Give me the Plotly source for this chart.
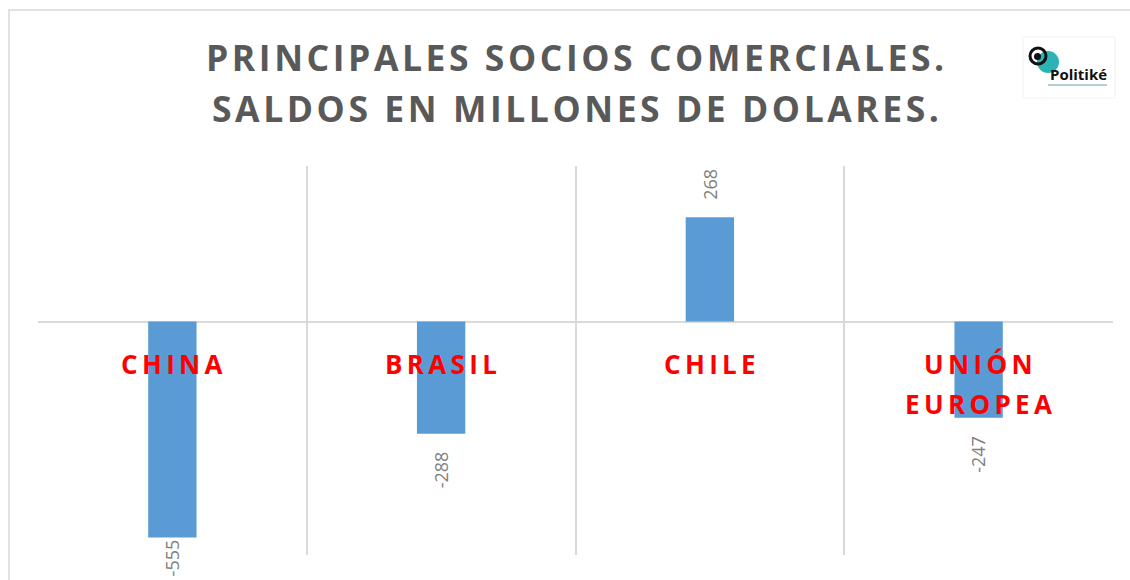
import plotly.graph_objects as go

categories = ["CHINA", "BRASIL", "CHILE", "UNIÓN EUROPEA"]
saldos = [-555, -288, 268, -247]
title_lines = ["PRINCIPALES SOCIOS COMERCIALES.", "SALDOS EN MILLONES DE DOLARES."]
logo_text = "Politiké"

W, H = 1130, 580
L, R, T, B = 38, 17, 166, 25
PW, PH = W - L - R, H - T - B
YMIN, YMAX = -600, 400
FONT = "Open Sans"


def spaced(s, sp="\u2006"):
    return sp.join(list(s))


def px2x(px):
    return (px - L) / PW


def py2y(py):
    return (H - B - py) / PH


fig = go.Figure()
fig.add_trace(go.Bar(
    x=list(range(len(categories))), y=saldos, width=0.18,
    marker=dict(color="#5B9BD5", line=dict(width=0)),
    hoverinfo="skip",
))

ann = []
shapes = []

# title
title_centers = [57, 108]
for line, cy in zip(title_lines, title_centers):
    ann.append(dict(text=spaced(line, "\u200A"), xref="paper", yref="paper",
                    x=px2x(575), y=py2y(cy), xanchor="center", yanchor="middle",
                    showarrow=False,
                    font=dict(family=FONT, size=35.5, color="#595959", weight="bold")))

# category labels
for i, c in enumerate(categories):
    for k, word in enumerate(c.split(" ")):
        ann.append(dict(text=spaced(word), x=i, y=0, xref="x", yref="y",
                        xanchor="center", yanchor="middle", yshift=-42 - 40 * k,
                        showarrow=False,
                        font=dict(family=FONT, size=26, color="#FF0000", weight="bold")))

# data labels
ppu = PH / (YMAX - YMIN)
fs = 18
for i, v in enumerate(saldos):
    txt = str(v)
    gap = 16
    if v >= 0:
        ann.append(dict(text=txt, x=i, y=v, xref="x", yref="y", textangle=-90,
                        xanchor="center", yanchor="bottom", yshift=gap, showarrow=False,
                        font=dict(family=FONT, size=fs, color="#808080")))
    else:
        length = 0.55 * fs * len(txt)
        end_px = T + (YMAX - v) * ppu
        if end_px + gap + length > H - 4:
            gap = max(0, (H - 4) - length - end_px)
        ann.append(dict(text=txt, x=i, y=v, xref="x", yref="y", textangle=-90,
                        xanchor="center", yanchor="top", yshift=-gap, showarrow=False,
                        font=dict(family=FONT, size=fs, color="#808080")))

# outer chart border
shapes.append(dict(type="rect", xref="paper", yref="paper",
                   x0=px2x(9), x1=px2x(1160), y0=py2y(620), y1=py2y(10),
                   line=dict(color="#D9D9D9", width=1.5), layer="below"))

# logo
shapes.append(dict(type="rect", xref="paper", yref="paper",
                   x0=px2x(1023), x1=px2x(1115), y0=py2y(98), y1=py2y(37),
                   line=dict(color="#F2F2F2", width=1), layer="below"))
shapes.append(dict(type="circle", xref="paper", yref="paper",
                   x0=px2x(1037), x1=px2x(1059), y0=py2y(73), y1=py2y(51),
                   fillcolor="#2EB3B5", line=dict(width=0)))
shapes.append(dict(type="circle", xref="paper", yref="paper",
                   x0=px2x(1030), x1=px2x(1046), y0=py2y(64), y1=py2y(48),
                   fillcolor="rgba(0,0,0,0)", line=dict(color="#111111", width=3)))
shapes.append(dict(type="circle", xref="paper", yref="paper",
                   x0=px2x(1034), x1=px2x(1041), y0=py2y(60), y1=py2y(53),
                   fillcolor="#111111", line=dict(width=0)))
shapes.append(dict(type="line", xref="paper", yref="paper",
                   x0=px2x(1048), x1=px2x(1107), y0=py2y(85), y1=py2y(85),
                   line=dict(color="#9FBFC4", width=1.5)))
ann.append(dict(text=logo_text, xref="paper", yref="paper", x=px2x(1048), y=py2y(74),
                xanchor="left", yanchor="middle", showarrow=False,
                font=dict(family=FONT, size=15, color="#111111", weight="bold")))

fig.update_layout(
    width=W, height=H,
    margin=dict(l=L, r=R, t=T, b=B),
    paper_bgcolor="white", plot_bgcolor="white",
    showlegend=False,
    annotations=ann, shapes=shapes,
    xaxis=dict(range=[-0.5, len(categories) - 0.5], tickvals=[-0.5, 0.5, 1.5, 2.5, 3.5],
               showticklabels=False, showgrid=True, gridcolor="#D9D9D9", gridwidth=1.5,
               zeroline=False, showline=False, ticks=""),
    yaxis=dict(range=[YMIN, YMAX], showgrid=False, showticklabels=False,
               zeroline=True, zerolinecolor="#D9D9D9", zerolinewidth=2, ticks=""),
)

fig.write_html("out.html", config={"displayModeBar": False},
               post_script="document.body.style.margin='0px';")
